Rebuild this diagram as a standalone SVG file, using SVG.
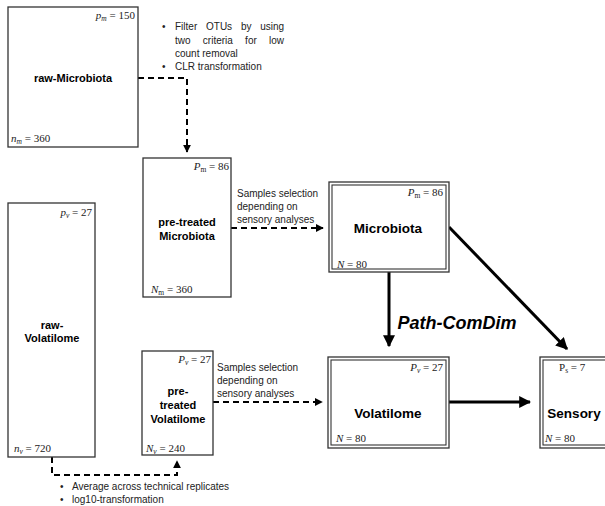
<svg xmlns="http://www.w3.org/2000/svg" width="605" height="506" viewBox="0 0 605 506">
<defs>
<style>
.box{fill:#fff;stroke:#333;stroke-width:1.3}
.dbl{fill:none;stroke:#333;stroke-width:1.1}
.math{font-family:"Liberation Serif",serif;font-size:11px;fill:#222}
.it{font-style:italic}
.lbl{font-family:"Liberation Sans",Arial,sans-serif;font-size:11px;font-weight:bold;fill:#000;text-anchor:middle}
.big{font-family:"Liberation Sans",Arial,sans-serif;font-size:13.5px;font-weight:bold;fill:#000;text-anchor:middle}
.note{font-family:"Liberation Sans",Arial,sans-serif;font-size:10px;fill:#222}
.dash{fill:none;stroke:#000;stroke-width:2;stroke-dasharray:6 4}
.thick{fill:none;stroke:#000;stroke-width:3}
</style>
<marker id="ah" viewBox="0 0 10 10" refX="9" refY="5" markerWidth="4" markerHeight="4" markerUnits="strokeWidth" orient="auto"><path d="M0,0 L10,5 L0,10 z" fill="#000"/></marker>
<marker id="ahb" viewBox="0 0 10 10" refX="9" refY="5" markerWidth="4" markerHeight="4" markerUnits="strokeWidth" orient="auto"><path d="M0,0 L10,5 L0,10 z" fill="#000"/></marker>
</defs>
<rect width="605" height="506" fill="#fff"/>

<g id="connectors">
<path class="dash" d="M138,78 H187 V152" marker-end="url(#ah)"/>
<path class="dash" d="M231,228 H323" marker-end="url(#ah)"/>
<path class="dash" d="M213,402 H322" marker-end="url(#ah)"/>
<path class="dash" d="M52,457 V475 H177 V461" marker-end="url(#ah)"/>
<path class="thick" d="M389,272 V346" marker-end="url(#ahb)"/>
<path class="thick" d="M449,402 H530" marker-end="url(#ahb)"/>
<path class="thick" d="M449,227 L567,349" marker-end="url(#ahb)"/>
</g>

<g id="notes">
<text class="note"><tspan x="162" y="30">•</tspan><tspan x="175" y="30" word-spacing="6">Filter OTUs by using</tspan></text>
<text class="note" x="175" y="44" word-spacing="9.5">two criteria for low</text>
<text class="note" x="175" y="57">count removal</text>
<text class="note"><tspan x="162" y="70">•</tspan><tspan x="175" y="70">CLR transformation</tspan></text>
<text class="note" x="237" y="197">Samples selection</text>
<text class="note" x="237" y="210">depending on</text>
<text class="note" x="237" y="223">sensory analyses</text>
<text class="note" x="217" y="371">Samples selection</text>
<text class="note" x="217" y="384">depending on</text>
<text class="note" x="217" y="397">sensory analyses</text>
<text class="note"><tspan x="60" y="490">•</tspan><tspan x="72" y="490">Average across technical replicates</tspan></text>
<text class="note"><tspan x="60" y="503">•</tspan><tspan x="72" y="503">log10-transformation</tspan></text>
<text x="457" y="329" font-family="Liberation Sans,Arial,sans-serif" font-size="18" font-weight="bold" font-style="italic" text-anchor="middle">Path-ComDim</text>
</g>

<g id="raw-microbiota">
<rect class="box" x="8" y="7" width="130" height="140"/>
<text class="math" x="135" y="19" text-anchor="end"><tspan class="it">p</tspan><tspan class="it" font-size="7.5" dy="2">m</tspan><tspan dy="-2"> = 150</tspan></text>
<text class="lbl" x="73" y="82">raw-Microbiota</text>
<text class="math" x="11" y="142"><tspan class="it">n</tspan><tspan class="it" font-size="7.5" dy="2">m</tspan><tspan dy="-2"> = 360</tspan></text>
</g>

<g id="pretreated-microbiota">
<rect class="box" x="143" y="158" width="88" height="139"/>
<text class="math" x="229" y="170" text-anchor="end"><tspan class="it">P</tspan><tspan font-size="7.5" dy="2">m</tspan><tspan dy="-2"> = 86</tspan></text>
<text class="lbl" x="187" y="226">pre-treated</text>
<text class="lbl" x="187" y="240">Microbiota</text>
<text class="math" x="151" y="293"><tspan class="it">N</tspan><tspan font-size="7.5" dy="2">m</tspan><tspan dy="-2"> = 360</tspan></text>
</g>

<g id="microbiota">
<rect class="box" x="329" y="182" width="120" height="90" stroke-width="1.1"/>
<rect class="dbl" x="332" y="185" width="114" height="84"/>
<text class="math" x="443" y="196" text-anchor="end"><tspan class="it">P</tspan><tspan font-size="7.5" dy="2">m</tspan><tspan dy="-2"> = 86</tspan></text>
<text class="big" x="388" y="233">Microbiota</text>
<text class="math" x="337" y="268"><tspan class="it">N</tspan> = 80</text>
</g>

<g id="raw-volatilome">
<rect class="box" x="8" y="203" width="87" height="254"/>
<text class="math" x="92" y="216" text-anchor="end"><tspan class="it">p</tspan><tspan class="it" font-size="7.5" dy="2">v</tspan><tspan dy="-2"> = 27</tspan></text>
<text class="lbl" x="52" y="329">raw-</text>
<text class="lbl" x="52" y="342">Volatilome</text>
<text class="math" x="14" y="452"><tspan class="it">n</tspan><tspan class="it" font-size="7.5" dy="2">v</tspan><tspan dy="-2"> = 720</tspan></text>
</g>

<g id="pretreated-volatilome">
<rect class="box" x="142" y="351" width="71" height="104"/>
<text class="math" x="211" y="363" text-anchor="end"><tspan class="it">P</tspan><tspan class="it" font-size="7.5" dy="2">v</tspan><tspan dy="-2"> = 27</tspan></text>
<text class="lbl" x="178" y="395">pre-</text>
<text class="lbl" x="178" y="409">treated</text>
<text class="lbl" x="178" y="423">Volatilome</text>
<text class="math" x="146" y="452"><tspan class="it">N</tspan><tspan class="it" font-size="7.5" dy="2">v</tspan><tspan dy="-2"> = 240</tspan></text>
</g>

<g id="volatilome">
<rect class="box" x="328" y="357" width="121" height="91" stroke-width="1.1"/>
<rect class="dbl" x="331" y="360" width="115" height="85"/>
<text class="math" x="443" y="371" text-anchor="end"><tspan class="it">P</tspan><tspan class="it" font-size="7.5" dy="2">v</tspan><tspan dy="-2"> = 27</tspan></text>
<text class="big" x="388" y="418">Volatilome</text>
<text class="math" x="336" y="442"><tspan class="it">N</tspan> = 80</text>
</g>

<g id="sensory">
<rect class="box" x="540" y="357" width="80" height="91" stroke-width="1.1"/>
<rect class="dbl" x="543" y="360" width="74" height="85"/>
<text class="math" x="559" y="371">P<tspan font-size="7.5" dy="2">s</tspan><tspan dy="-2"> = 7</tspan></text>
<text class="big" x="574" y="418" font-size="13">Sensory</text>
<text class="math" x="545" y="442"><tspan class="it">N</tspan> = 80</text>
</g>
</svg>
